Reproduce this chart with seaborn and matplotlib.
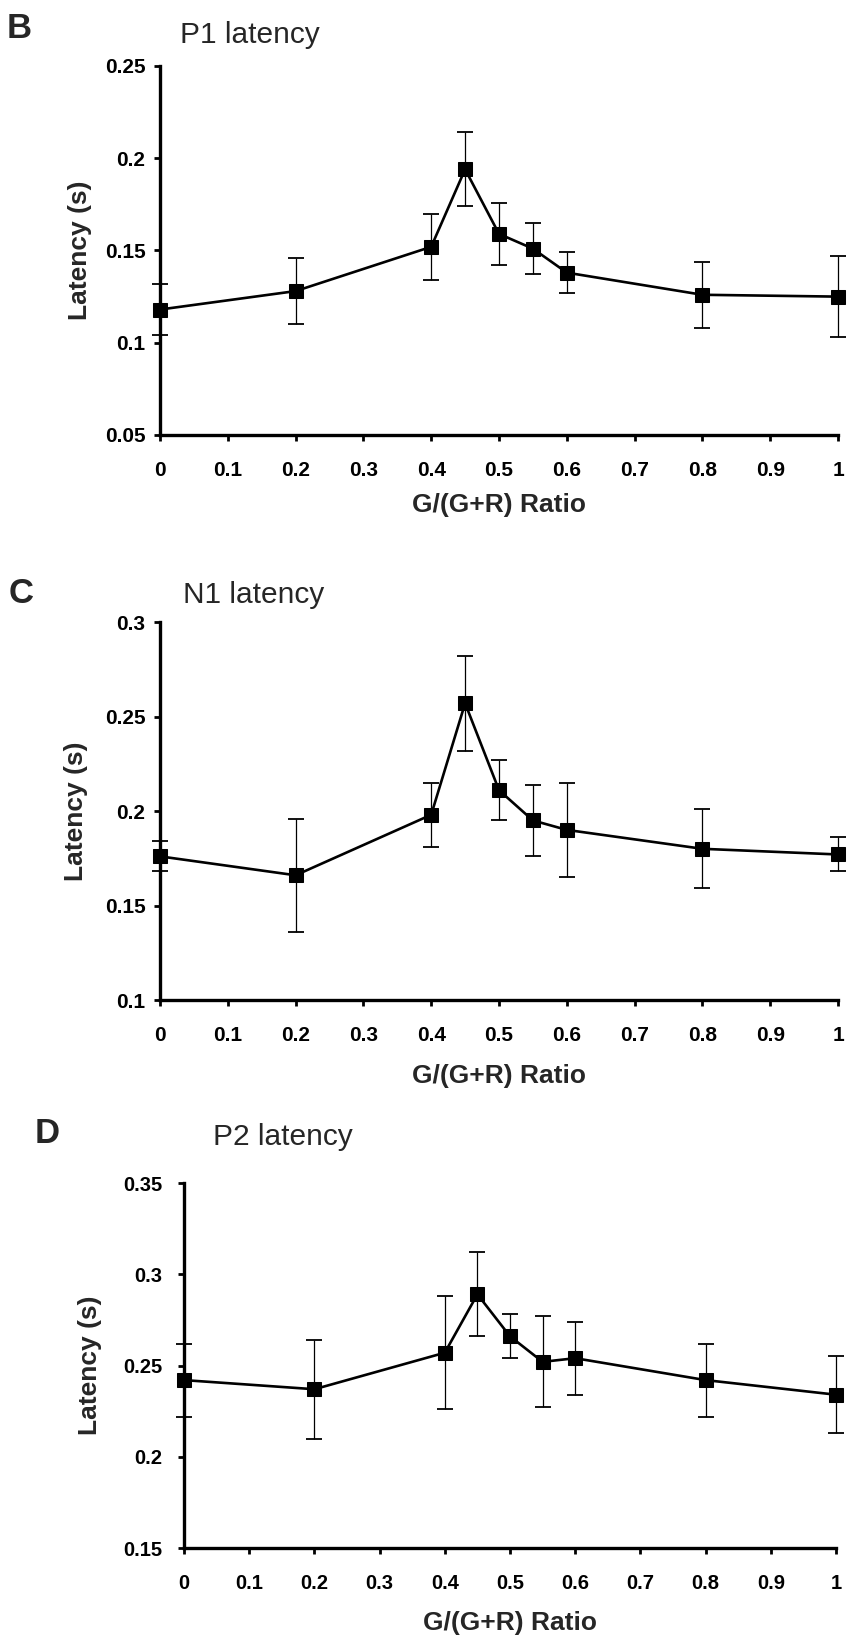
import matplotlib
matplotlib.use("Agg")
import matplotlib.pyplot as plt
import seaborn as sns
import numpy as np
import pandas as pd

# ---- data ----
ratio = [0, 0.2, 0.4, 0.45, 0.5, 0.55, 0.6, 0.8, 1.0]

p1_mean = [0.118, 0.128, 0.152, 0.194, 0.159, 0.151, 0.138, 0.126, 0.125]
p1_err = [0.014, 0.018, 0.018, 0.020, 0.017, 0.014, 0.011, 0.018, 0.022]

n1_mean = [0.176, 0.166, 0.198, 0.257, 0.211, 0.195, 0.190, 0.180, 0.177]
n1_err = [0.008, 0.030, 0.017, 0.025, 0.016, 0.019, 0.025, 0.021, 0.009]

p2_mean = [0.242, 0.237, 0.257, 0.289, 0.266, 0.252, 0.254, 0.242, 0.234]
p2_err = [0.020, 0.027, 0.031, 0.023, 0.012, 0.025, 0.020, 0.020, 0.021]

x_ticks = [0, 0.1, 0.2, 0.3, 0.4, 0.5, 0.6, 0.7, 0.8, 0.9, 1.0]
x_tick_labels = ["0", "0.1", "0.2", "0.3", "0.4", "0.5", "0.6", "0.7", "0.8", "0.9", "1"]

p1_yticks = [0.05, 0.1, 0.15, 0.2, 0.25]
p1_ylabels = ["0.05", "0.1", "0.15", "0.2", "0.25"]
n1_yticks = [0.1, 0.15, 0.2, 0.25, 0.3]
n1_ylabels = ["0.1", "0.15", "0.2", "0.25", "0.3"]
p2_yticks = [0.15, 0.2, 0.25, 0.3, 0.35]
p2_ylabels = ["0.15", "0.2", "0.25", "0.3", "0.35"]

panel_letters = ["B", "C", "D"]
titles = ["P1 latency", "N1 latency", "P2 latency"]
x_label = "G/(G+R) Ratio"
y_label = "Latency (s)"

# ---- style ----
sns.set_theme(style="ticks")
plt.rcParams["font.family"] = ["Liberation Sans", "DejaVu Sans"]

W, H = 847, 1642
fig = plt.figure(figsize=(W / 100, H / 100), dpi=100)
fig.patch.set_facecolor("white")

# axes boxes in pixels: left, right, top, bottom
boxes = [(160, 838, 66, 435), (160, 838, 622, 1000), (184, 836, 1183, 1548)]
letter_pos = [(7, 38), (9, 603), (35, 1143)]
title_pos = [(180, 43), (183, 603), (213, 1145)]
ylabel_x = [80, 76, 90]
xlabel_y = [512, 1083, 1630]
ytick_pad = [6, 6, 11]
tick_fs = [15, 15, 14.5]

series = [(p1_mean, p1_err, p1_yticks, p1_ylabels),
          (n1_mean, n1_err, n1_yticks, n1_ylabels),
          (p2_mean, p2_err, p2_yticks, p2_ylabels)]

for i, (mean, err, yt, yl) in enumerate(series):
    l, r, t, b = boxes[i]
    ax = fig.add_axes([l / W, 1 - b / H, (r - l) / W, (b - t) / H])
    ax.set_facecolor("white")
    df = pd.DataFrame({"ratio": ratio, "latency": mean})
    ax.errorbar(ratio, mean, yerr=err, fmt="none", ecolor="black",
                elinewidth=0.9, capsize=5.5, capthick=1.3, clip_on=False, zorder=2)
    sns.lineplot(data=df, x="ratio", y="latency", ax=ax, color="black",
                 linewidth=1.9, marker="s", markersize=10, markeredgecolor="black",
                 markerfacecolor="black", clip_on=False, zorder=3)
    ax.set_xlim(0, 1)
    ax.set_ylim(yt[0], yt[-1])
    ax.set_xticks(x_ticks)
    ax.set_xticklabels(x_tick_labels, fontsize=tick_fs[i], fontweight="bold")
    ax.set_yticks(yt)
    ax.set_yticklabels(yl, fontsize=tick_fs[i], fontweight="bold")
    ax.tick_params(axis="both", direction="out", length=4.5, width=2, color="black",
                   labelcolor="black")
    ax.tick_params(axis="y", pad=ytick_pad[i])
    ax.tick_params(axis="x", pad=14)
    for s in ["top", "right"]:
        ax.spines[s].set_visible(False)
    for s in ["left", "bottom"]:
        ax.spines[s].set_linewidth(2.4)
        ax.spines[s].set_color("black")
    ax.set_xlabel("")
    ax.set_ylabel("")
    # axis labels
    fig.text((l + r) / 2 / W, 1 - xlabel_y[i] / H, x_label, ha="center", va="baseline",
             fontsize=19, fontweight="bold")
    fig.text(ylabel_x[i] / W, 1 - (t + b) / 2 / H, y_label, rotation=90, ha="center",
             va="center", fontsize=19, fontweight="bold")
    fig.text(letter_pos[i][0] / W, 1 - letter_pos[i][1] / H, panel_letters[i],
             ha="left", va="baseline", fontsize=25, fontweight="bold")
    fig.text(title_pos[i][0] / W, 1 - title_pos[i][1] / H, titles[i],
             ha="left", va="baseline", fontsize=21.5)

fig.savefig("out.png", dpi=100, facecolor="white")
